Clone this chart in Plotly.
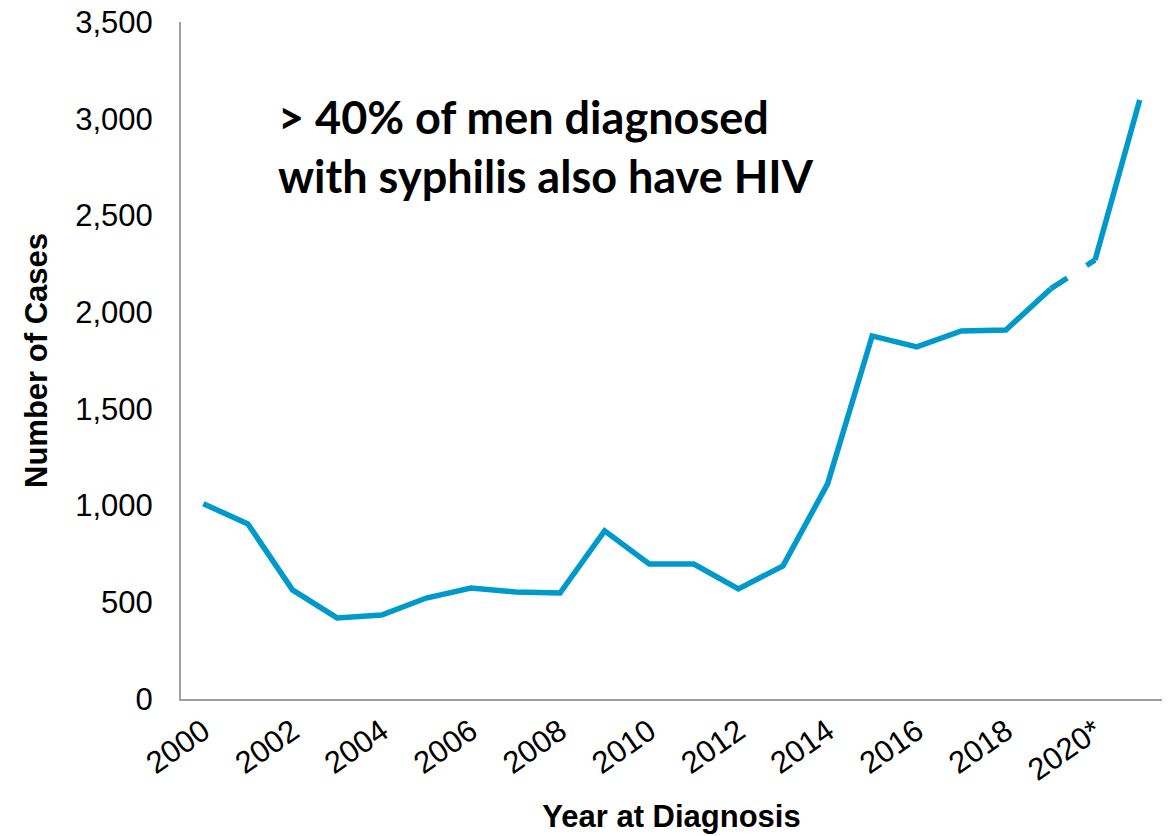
import plotly.graph_objects as go

years = list(range(2000, 2022))
cases = [1010, 905, 564, 419, 434, 522, 574, 553, 548, 869, 698, 698,
         569, 688, 1112, 1877, 1820, 1903, 1908, 2120, 2270, 3097]
tick_years = list(range(2000, 2021, 2))
tick_labels = [str(y) for y in tick_years[:-1]] + ["2020*"]
y_ticks = [0, 500, 1000, 1500, 2000, 2500, 3000, 3500]
y_labels = ["0", "500", "1,000", "1,500", "2,000", "2,500", "3,000", "3,500"]

color = "#0099CC"
lw = 5.5

fig = go.Figure()
# 2000-2019
fig.add_trace(go.Scatter(x=years[:20], y=cases[:20], mode="lines",
                         line=dict(color=color, width=lw), showlegend=False,
                         hoverinfo="skip"))
# broken 2019-2020 segment
fig.add_trace(go.Scatter(x=years[19:21], y=cases[19:21], mode="lines",
                         line=dict(color=color, width=lw, dash="20px,23px,20px"),
                         showlegend=False, hoverinfo="skip"))
# 2020-2021
fig.add_trace(go.Scatter(x=years[20:], y=cases[20:], mode="lines",
                         line=dict(color=color, width=lw), showlegend=False,
                         hoverinfo="skip"))

tick_font = dict(family="Liberation Sans, Arial, sans-serif", size=31, color="#000000")
title_font = dict(family="Liberation Sans, Arial, sans-serif", size=31, color="#000000")

fig.update_layout(
    width=1171, height=836,
    margin=dict(l=181, r=9, t=22, b=137),
    plot_bgcolor="white", paper_bgcolor="white",
    xaxis=dict(range=[1999.5, 2021.5], tickvals=tick_years, ticktext=tick_labels,
               tickangle=-35, tickfont=tick_font, showgrid=False, zeroline=False,
               showline=True, linecolor="#A0A0A0", linewidth=2, ticks="",
               automargin=False,
               title=dict(text="<b>Year at Diagnosis</b>", font=title_font, standoff=19)),
    yaxis=dict(range=[0, 3500], tickvals=y_ticks, ticktext=y_labels,
               tickfont=tick_font, showgrid=False, zeroline=False,
               showline=True, linecolor="#A0A0A0", linewidth=2, ticks="",
               ticklabelstandoff=20, automargin=False,
               title=dict(text="<b>Number of Cases</b>", font=title_font, standoff=18)),
)

fig.add_annotation(
    xref="paper", yref="paper", x=(276 - 181) / 981, y=(699 - 88) / 677,
    xanchor="left", yanchor="top", align="left", showarrow=False,
    text="<b>&gt; 40% of men diagnosed<br>with syphilis also have HIV</b>",
    font=dict(family="Lato, Open Sans, sans-serif", size=45, color="#000000"),
)

fig.write_html("out.html", config={"displayModeBar": False},
               post_script="document.body.style.margin='0';")
